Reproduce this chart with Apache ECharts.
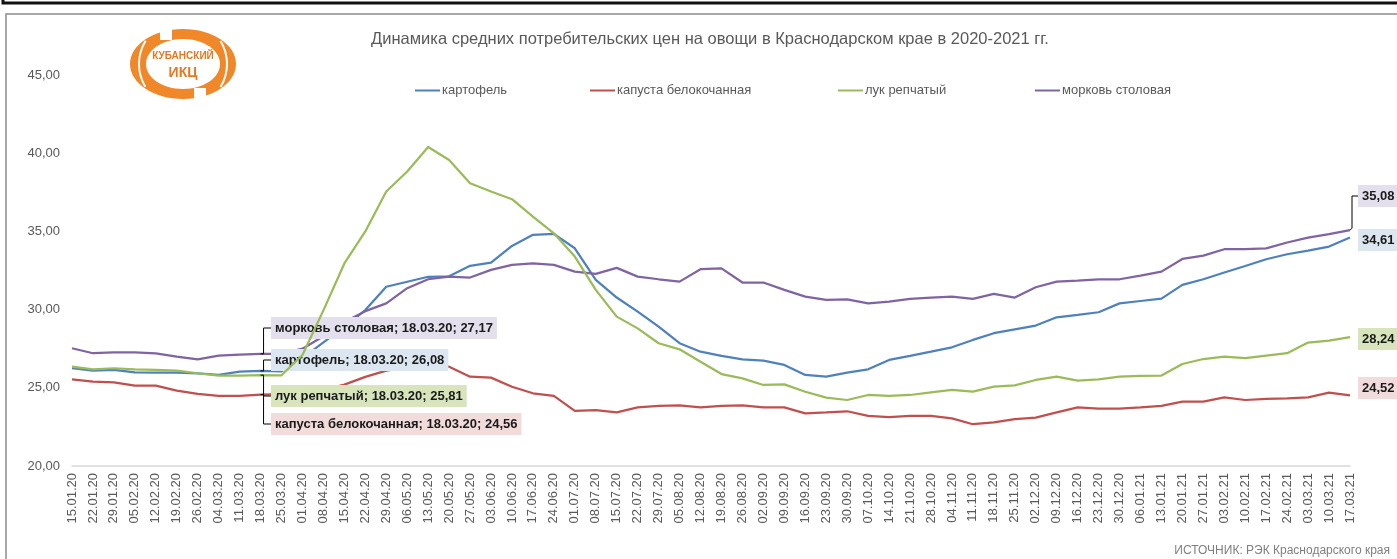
<!DOCTYPE html>
<html><head><meta charset="utf-8">
<script src="https://cdn.jsdelivr.net/npm/echarts/dist/echarts.min.js"></script>
<style>html,body{margin:0;padding:0;background:#fff}#c{width:1397px;height:559px}</style>
</head><body><div id="c"></div>
<script>
const categories = ['15.01.20','22.01.20','29.01.20','05.02.20','12.02.20','19.02.20','26.02.20','04.03.20','11.03.20','18.03.20',
'25.03.20','01.04.20','08.04.20','15.04.20','22.04.20','29.04.20','06.05.20','13.05.20','20.05.20','27.05.20',
'03.06.20','10.06.20','17.06.20','24.06.20','01.07.20','08.07.20','15.07.20','22.07.20','29.07.20','05.08.20',
'12.08.20','19.08.20','26.08.20','02.09.20','09.09.20','16.09.20','23.09.20','30.09.20','07.10.20','14.10.20',
'21.10.20','28.10.20','04.11.20','11.11.20','18.11.20','25.11.20','02.12.20','09.12.20','16.12.20','23.12.20',
'30.12.20','06.01.21','13.01.21','20.01.21','27.01.21','03.02.21','10.02.21','17.02.21','24.02.21','03.03.21',
'10.03.21','17.03.21'];

const potato = [26.25,26.10,26.14,25.99,25.97,25.97,25.93,25.82,26.03,26.08,
26.05,26.90,27.90,28.90,29.97,31.46,31.78,32.10,32.13,32.80,
33.00,34.07,34.78,34.84,33.92,31.90,30.77,29.87,28.91,27.85,
27.31,27.04,26.82,26.74,26.46,25.82,25.72,25.97,26.18,26.78,
27.04,27.31,27.59,28.06,28.49,28.74,28.98,29.51,29.66,29.83,
30.40,30.55,30.70,31.58,31.94,32.37,32.79,33.22,33.54,33.77,
34.03,34.61];

const cabbage = [25.54,25.39,25.35,25.14,25.14,24.82,24.61,24.48,24.48,24.56,
24.60,24.70,24.85,25.20,25.70,26.10,26.30,26.40,26.35,25.71,
25.65,25.07,24.65,24.48,23.52,23.58,23.43,23.75,23.84,23.88,
23.75,23.84,23.88,23.75,23.75,23.37,23.43,23.50,23.20,23.12,
23.20,23.20,23.05,22.67,22.79,23.00,23.09,23.43,23.75,23.67,
23.67,23.75,23.84,24.11,24.11,24.39,24.22,24.29,24.33,24.39,
24.69,24.52];

const onion = [26.35,26.18,26.25,26.18,26.14,26.10,25.93,25.78,25.78,25.81,
25.80,27.10,29.95,32.95,35.00,37.55,38.83,40.40,39.57,38.08,
37.55,37.06,35.95,34.88,33.39,31.26,29.55,28.80,27.85,27.46,
26.67,25.88,25.60,25.18,25.22,24.75,24.37,24.22,24.54,24.48,
24.54,24.71,24.86,24.75,25.07,25.16,25.50,25.71,25.46,25.54,
25.71,25.76,25.78,26.52,26.84,26.99,26.89,27.06,27.21,27.89,
28.02,28.24];

const carrot = [27.53,27.21,27.27,27.27,27.20,27.00,26.82,27.06,27.12,27.17,
27.17,27.50,28.30,29.20,29.90,30.40,31.37,31.94,32.11,32.05,
32.54,32.86,32.96,32.86,32.43,32.28,32.67,32.11,31.94,31.79,
32.58,32.64,31.73,31.73,31.26,30.83,30.62,30.66,30.40,30.51,
30.68,30.77,30.83,30.68,31.00,30.77,31.43,31.79,31.86,31.94,
31.94,32.17,32.43,33.24,33.45,33.86,33.86,33.92,34.29,34.60,
34.82,35.08];

const seriesNames = ['картофель','капуста белокочанная','лук репчатый','морковь столовая'];
const yTicks = [20,25,30,35,40,45];
const titleText = 'Динамика средних потребительских цен на овощи в Краснодарском крае в 2020-2021 гг.';
const sourceText = 'ИСТОЧНИК: РЭК Краснодарского края';

const fmt = v => v.toFixed(2).replace('.', ',');
const midIdx = 9, lastIdx = categories.length - 1;

const defs = [
  {name: seriesNames[0], values: potato,  color:'#4f81bd', bg:'#dce6f1', midY:360, endY:240, legendX:415, endLeader:false},
  {name: seriesNames[1], values: cabbage, color:'#c0504d', bg:'#f2dcdb', midY:424, endY:388, legendX:590, endLeader:false},
  {name: seriesNames[2], values: onion,   color:'#9bbb59', bg:'#d8e4bc', midY:396, endY:339, legendX:838, endLeader:false},
  {name: seriesNames[3], values: carrot,  color:'#8064a2', bg:'#e4dfec', midY:328, endY:196, legendX:1035, endLeader:true}
];

const FONT = '"Liberation Sans", Arial, sans-serif';
const MID_LABEL_X = 271, END_LABEL_X = 1358;

const series = defs.map((d, si) => ({
  name: d.name,
  type: 'line',
  symbol: 'circle',
  symbolSize: 0.01,
  showSymbol: true,
  showAllSymbol: true,
  smooth: false,
  lineStyle: {color: d.color, width: 2.25},
  itemStyle: {color: d.color},
  emphasis: {disabled: true},
  z: si === 2 ? 3 : 2,
  labelLayout: function (p) {
    if (p.dataIndex === midIdx) return {x: MID_LABEL_X, y: d.midY, align: 'left', verticalAlign: 'middle'};
    return {x: END_LABEL_X, y: d.endY, align: 'left', verticalAlign: 'middle'};
  },
  data: d.values.map((v, i) => {
    if (i === midIdx || i === lastIdx) {
      return {
        value: v,
        label: {
          show: true,
          position: 'right',
          formatter: i === midIdx ? (d.name + '; ' + categories[i] + '; ' + fmt(v)) : fmt(v),
          backgroundColor: d.bg,
          padding: [5, 4, 4, 4],
          color: '#1a1a1a',
          fontWeight: 'bold',
          fontSize: 13,
          fontFamily: FONT
        }
      };
    }
    return v;
  })
}));

const legends = defs.map(d => ({
  data: [d.name],
  left: d.legendX,
  top: 84,
  padding: 0,
  icon: 'rect',
  itemWidth: 25,
  itemHeight: 2,
  itemGap: 0,
  textStyle: {color: '#595959', fontSize: 13, fontFamily: FONT, padding: [0, 0, 0, -3]}
}));

const baseGraphic = [
  {type: 'rect', shape: {x: 3, y: -4, width: 1400, height: 7}, style: {fill: 'none', stroke: '#111', lineWidth: 3}, silent: true},
  {type: 'rect', shape: {x: 6, y: 14, width: 1400, height: 560}, style: {fill: 'none', stroke: '#8c8c8c', lineWidth: 1.5}, silent: true},
  {type: 'group', children: [
    {type: 'ellipse', shape: {cx: 183, cy: 64, rx: 53, ry: 35}, style: {fill: '#f0882a'}},
    {type: 'ellipse', shape: {cx: 183, cy: 64, rx: 37, ry: 25}, style: {fill: '#fff'}},
    {type: 'arc', shape: {cx: 183, cy: 64, r: 44, startAngle: 2.6, endAngle: 3.7}, style: {stroke: '#fff', lineWidth: 2, fill: 'none'}},
    {type: 'arc', shape: {cx: 183, cy: 64, r: 44, startAngle: -0.55, endAngle: 0.55}, style: {stroke: '#fff', lineWidth: 2, fill: 'none'}},
    {type: 'rect', shape: {x: 160, y: 26, width: 12, height: 14}, style: {fill: '#fff'}},
    {type: 'rect', shape: {x: 194, y: 88, width: 12, height: 14}, style: {fill: '#fff'}},
    {type: 'text', style: {x: 183, y: 56, text: 'КУБАНСКИЙ', align: 'center', verticalAlign: 'middle', fill: '#e8781e', font: 'bold 10px ' + FONT}},
    {type: 'text', style: {x: 183, y: 73, text: 'ИКЦ', align: 'center', verticalAlign: 'middle', fill: '#e8781e', font: 'bold 14px ' + FONT}}
  ]},
  {type: 'text', style: {x: 1390, y: 551, text: sourceText, align: 'right', verticalAlign: 'middle', fill: '#7f7f7f', font: '12px ' + FONT}}
];

const chart = echarts.init(document.getElementById('c'), null, {renderer: 'canvas'});
chart.setOption({
  animation: false,
  backgroundColor: '#fff',
  title: {
    text: titleText,
    left: 705, textAlign: 'center', top: 26,
    textStyle: {color: '#595959', fontSize: 16.5, fontWeight: 'normal', fontFamily: FONT}
  },
  legend: legends,
  grid: {left: 72, right: 47, top: 75, bottom: 93, containLabel: false},
  xAxis: {
    type: 'category',
    data: categories,
    boundaryGap: false,
    axisLine: {lineStyle: {color: '#d9d9d9', width: 1.5}},
    axisTick: {show: false},
    axisLabel: {interval: 0, rotate: 90, color: '#595959', fontSize: 13, fontFamily: FONT, margin: 7}
  },
  yAxis: {
    type: 'value',
    min: yTicks[0], max: yTicks[yTicks.length - 1], interval: 5,
    axisLine: {show: false},
    axisTick: {show: false},
    splitLine: {show: false},
    axisLabel: {color: '#595959', fontSize: 13, fontFamily: FONT, margin: 12, formatter: v => fmt(v)}
  },
  graphic: baseGraphic,
  series: series
});

// Excel-style bracket leader lines, anchored via the chart's own scales
const leaders = [];
defs.forEach(d => {
  const p = chart.convertToPixel({xAxisIndex: 0, yAxisIndex: 0}, [midIdx, d.values[midIdx]]);
  leaders.push({type: 'polyline', silent: true, z: 10,
    shape: {points: [[p[0], p[1]], [p[0] + 3, p[1]], [p[0] + 3, d.midY], [MID_LABEL_X, d.midY]]},
    style: {stroke: '#000', lineWidth: 1, fill: 'none'}});
  if (d.endLeader) {
    const q = chart.convertToPixel({xAxisIndex: 0, yAxisIndex: 0}, [lastIdx, d.values[lastIdx]]);
    leaders.push({type: 'polyline', silent: true, z: 10,
      shape: {points: [[q[0], q[1]], [q[0] + 2, q[1] - 2], [q[0] + 2, d.endY], [END_LABEL_X, d.endY]]},
      style: {stroke: '#000', lineWidth: 1, fill: 'none'}});
  }
});
chart.setOption({graphic: baseGraphic.concat(leaders)});
</script>
</body></html>
